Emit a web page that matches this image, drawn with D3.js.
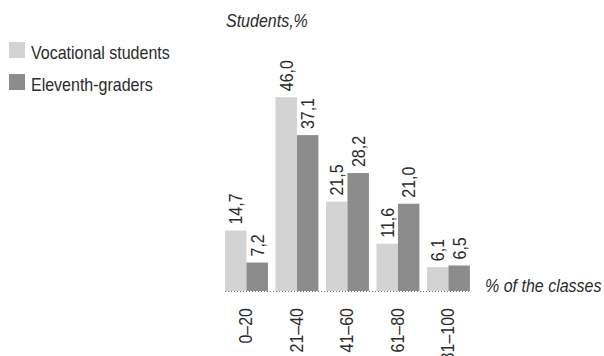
<!DOCTYPE html>
<html>
<head>
<meta charset="utf-8">
<script src="https://cdn.jsdelivr.net/npm/d3@7"></script>
<style>
  html, body { margin: 0; padding: 0; background: #fff; }
  svg text { font-family: "Liberation Sans", Arial, sans-serif; fill: #2b2b2b; font-size: 18px; }
</style>
</head>
<body>
<svg id="chart" width="604" height="356"></svg>
<script>
// Share of students by share of classes (%)
const categories = ["0–20", "21–40", "41–60", "61–80", "81–100"];
const seriesNames = ["Vocational students", "Eleventh-graders"];
const vocational = [14.7, 46.0, 21.5, 11.6, 6.1];
const eleventh = [7.2, 37.1, 28.2, 21.0, 6.5];
const colors = ["#d3d3d3", "#8c8c8c"];

const svg = d3.select("#chart");
const baseY = 291;
const narrow = "scale(0.89,1)"; // condensed lettering

const x = d3.scaleBand().domain(categories).range([221.2, 473.7])
  .paddingInner(0.15).paddingOuter(0.075);
const xs = d3.scaleBand().domain([0, 1]).range([0, x.bandwidth()]);
const y = d3.scaleLinear().domain([0, 46]).range([293.2, 97.2]);

const fmt = v => d3.format(".1f")(v).replace(".", ",");

const rows = categories.map((c, i) => ({ c, vals: [vocational[i], eleventh[i]] }));

const groups = svg.append("g").selectAll("g").data(rows).join("g")
  .attr("transform", d => `translate(${x(d.c)},0)`);

groups.selectAll("rect").data(d => d.vals).join("rect")
  .attr("x", (d, j) => xs(j))
  .attr("width", xs.bandwidth())
  .attr("y", d => y(d))
  .attr("height", d => baseY - y(d))
  .attr("fill", (d, j) => colors[j]);

groups.selectAll("text.val").data(d => d.vals).join("text")
  .attr("class", "val")
  .attr("transform", (d, j) => `translate(${xs(j) + xs.bandwidth() / 2 + 6.5},${y(d) - 6}) rotate(-90) ${narrow}`)
  .text(d => fmt(d));

// dotted baseline
svg.append("line")
  .attr("x1", x.range()[0] + 3.8).attr("x2", x.range()[1] - 2.5)
  .attr("y1", baseY + 0.5).attr("y2", baseY + 0.5)
  .attr("stroke", "#777").attr("stroke-width", 1)
  .attr("stroke-dasharray", "1,2");

// category labels
svg.append("g").selectAll("text").data(categories).join("text")
  .attr("transform", d => `translate(${x(d) + x.bandwidth() / 2 + 6},308) rotate(-90) ${narrow}`)
  .attr("text-anchor", "end")
  .text(d => d);

// axis titles
svg.append("text").attr("transform", `translate(226,27) ${narrow}`)
  .attr("font-style", "italic").text("Students,%");
svg.append("text").attr("transform", `translate(485,292) ${narrow}`)
  .attr("font-style", "italic").text("% of the classes");

// legend
const legend = svg.append("g").selectAll("g").data(seriesNames).join("g")
  .attr("transform", (d, i) => `translate(9,${42 + i * 32})`);
legend.append("rect").attr("width", 16).attr("height", 16).attr("fill", (d, i) => colors[i]);
legend.append("text").attr("transform", "translate(22,17) " + narrow).text(d => d);
</script>
</body>
</html>
